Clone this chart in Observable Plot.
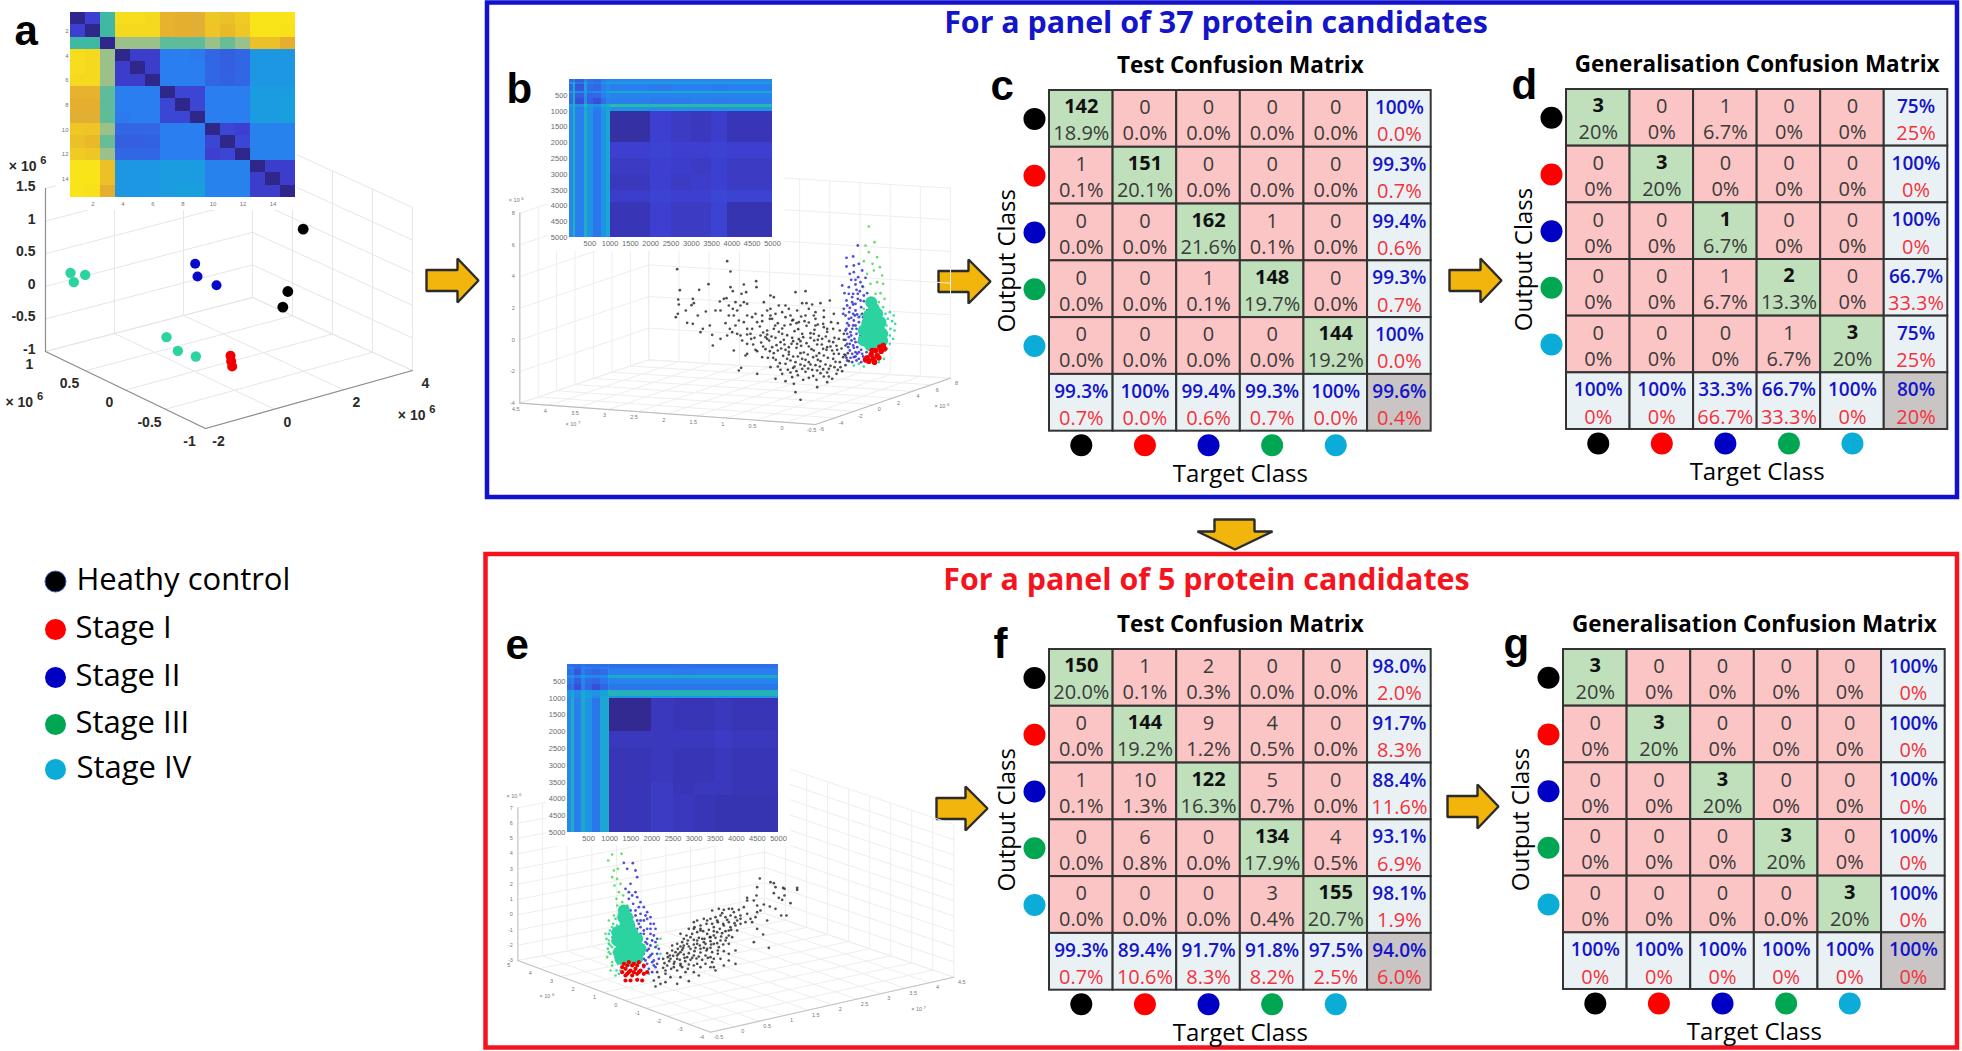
<!DOCTYPE html>
<html><head><meta charset="utf-8">
<script src="https://cdn.jsdelivr.net/npm/d3@7"></script>
<script src="https://cdn.jsdelivr.net/npm/@observablehq/plot@0.6"></script>
<style>html,body{margin:0;padding:0;background:#fff}#page{position:relative;width:1962px;height:1051px;overflow:hidden}#page svg{position:absolute;display:block;background:transparent;max-width:none}</style>
</head><body><div id="page"></div>
<script>
// ---------- classes ----------
const classNames = ["Heathy control","Stage I","Stage II","Stage III","Stage IV"];
const classColors = ["#000000","#ff0000","#0000c4","#00a651","#0bacd8"];

// ---------- confusion matrices ----------
const cCounts = [[142,0,0,0,0],[1,151,0,0,0],[0,0,162,1,0],[0,0,1,148,0],[0,0,0,0,144]];
const cPercents = [["18.9%","0.0%","0.0%","0.0%","0.0%"],["0.1%","20.1%","0.0%","0.0%","0.0%"],["0.0%","0.0%","21.6%","0.1%","0.0%"],["0.0%","0.0%","0.1%","19.7%","0.0%"],["0.0%","0.0%","0.0%","0.0%","19.2%"]];
const cRowGood = ["100%","99.3%","99.4%","99.3%","100%"];
const cRowBad = ["0.0%","0.7%","0.6%","0.7%","0.0%"];
const cColGood = ["99.3%","100%","99.4%","99.3%","100%","99.6%"];
const cColBad = ["0.7%","0.0%","0.6%","0.7%","0.0%","0.4%"];

const dCounts = [[3,0,1,0,0],[0,3,0,0,0],[0,0,1,0,0],[0,0,1,2,0],[0,0,0,1,3]];
const dPercents = [["20%","0%","6.7%","0%","0%"],["0%","20%","0%","0%","0%"],["0%","0%","6.7%","0%","0%"],["0%","0%","6.7%","13.3%","0%"],["0%","0%","0%","6.7%","20%"]];
const dRowGood = ["75%","100%","100%","66.7%","75%"];
const dRowBad = ["25%","0%","0%","33.3%","25%"];
const dColGood = ["100%","100%","33.3%","66.7%","100%","80%"];
const dColBad = ["0%","0%","66.7%","33.3%","0%","20%"];

const fCounts = [[150,1,2,0,0],[0,144,9,4,0],[1,10,122,5,0],[0,6,0,134,4],[0,0,0,3,155]];
const fPercents = [["20.0%","0.1%","0.3%","0.0%","0.0%"],["0.0%","19.2%","1.2%","0.5%","0.0%"],["0.1%","1.3%","16.3%","0.7%","0.0%"],["0.0%","0.8%","0.0%","17.9%","0.5%"],["0.0%","0.0%","0.0%","0.4%","20.7%"]];
const fRowGood = ["98.0%","91.7%","88.4%","93.1%","98.1%"];
const fRowBad = ["2.0%","8.3%","11.6%","6.9%","1.9%"];
const fColGood = ["99.3%","89.4%","91.7%","91.8%","97.5%","94.0%"];
const fColBad = ["0.7%","10.6%","8.3%","8.2%","2.5%","6.0%"];

const gCounts = [[3,0,0,0,0],[0,3,0,0,0],[0,0,3,0,0],[0,0,0,3,0],[0,0,0,0,3]];
const gPercents = [["20%","0%","0%","0%","0%"],["0%","20%","0%","0%","0%"],["0%","0%","20%","0%","0%"],["0%","0%","0%","20%","0%"],["0%","0%","0%","0.0%","20%"]];
const gRowGood = ["100%","100%","100%","100%","100%"];
const gRowBad = ["0%","0%","0%","0%","0%"];
const gColGood = ["100%","100%","100%","100%","100%","100%"];
const gColBad = ["0%","0%","0%","0%","0%","0%"];

// ---------- heatmap a: distance between 15 samples ----------
const aHeat = [
[3,14,55,98,98,97,86,85,84,92,90,93,100,100,100],
[14,3,55,97,97,97,86,85,84,91,88,92,100,100,99],
[55,55,3,70,70,70,60,60,60,70,62,70,90,90,85],
[98,97,70,3,13,13,30,30,29,24,22,24,37,37,37],
[98,97,70,13,3,13,30,30,30,24,22,24,37,37,37],
[97,97,70,13,13,3,30,30,30,24,23,24,37,37,37],
[86,86,60,30,30,30,3,16,16,30,30,30,38,38,38],
[85,85,60,30,30,30,16,3,16,30,30,30,38,38,39],
[84,84,60,29,30,30,16,16,3,30,30,30,38,38,39],
[92,91,70,24,24,24,30,30,30,3,16,14,31,31,31],
[90,88,62,22,22,23,30,30,30,16,3,16,31,31,31],
[93,92,70,24,24,24,30,30,30,14,16,3,31,31,31],
[100,100,90,37,37,37,38,38,38,31,31,31,3,13,13],
[100,100,90,37,37,37,38,38,38,31,31,31,13,3,13],
[100,99,85,37,37,37,38,39,39,31,31,31,13,13,3]];
const aHeatTicks = [2,4,6,8,10,12,14];

// ---------- heatmaps b and e: blocks between band edges ----------
const bEdges = [0,100,160,380,450,600,780,900,1000,2000,2500,3000,3500,3900,5000];
const bHeat = [
[25,30,22,33,27,25,30,33,33,33,33,33,33,33],
[36,46,28,42,30,28,36,38,38,38,38,38,38,38],
[24,44,20,40,26,24,30,34,30,29,30,30,29,30],
[36,46,34,40,32,34,36,40,42,42,42,42,42,42],
[26,44,22,36,24,24,30,34,32,31,32,32,31,32],
[24,44,18,36,22,18,26,32,30,29,29,30,29,30],
[38,50,36,52,38,36,44,46,52,52,52,52,52,52],
[33,46,30,42,36,30,38,40,36,35,36,35,36,36],
[33,48,30,46,36,28,36,42,7,14,12,11,13,10],
[33,48,30,46,36,28,36,42,14,15,14,14,15,14],
[33,48,30,46,36,28,36,42,12,14,13,12,14,12],
[33,48,30,46,36,28,36,42,11,14,12,13,14,12],
[33,48,30,46,36,28,36,42,13,15,14,14,16,15],
[33,48,30,46,36,28,36,42,10,14,12,12,15,9]];
const eEdges = [0,100,160,330,420,600,780,960,1000,2000,2500,3000,3500,3900,5000];
const eHeat = [
[27,25,25,28,26,27,26,30,26,26,26,26,26,26],
[30,30,24,32,30,28,30,36,28,28,28,28,28,28],
[26,28,20,30,26,24,26,34,30,30,29,30,30,30],
[34,36,30,38,34,32,34,44,44,44,44,44,44,44],
[28,30,22,32,26,24,28,36,32,32,32,32,32,32],
[24,28,18,30,24,18,24,34,28,28,28,28,28,28],
[36,40,34,42,38,36,40,48,48,48,48,48,48,48],
[36,44,34,42,40,34,44,48,36,36,36,36,36,36],
[33,46,30,44,36,28,42,46,4,11,10,10,11,10],
[33,46,30,44,36,28,42,46,11,11,11,11,12,11],
[33,46,30,44,36,28,42,46,10,11,10,10,11,10],
[33,46,30,44,36,28,42,46,10,11,10,10,11,10],
[33,46,30,44,36,28,42,46,10,12,10,11,11,10],
[33,46,30,44,36,28,42,46,10,12,11,10,9,9]];
const heatTicks = [500,1000,1500,2000,2500,3000,3500,4000,4500,5000];
const heatStops = [0,14,30,40,52,70,85,100];
const heatColors = ["#2d2078","#3d3fd0","#2a7ef0","#17a2dc","#2cb8a8","#9cc08a","#e6ae2e","#f9e41a"];

// ---------- scatter a, as read on the projected picture ----------
const aBlack = [[908,686],[862,873],[847,920]];
const aRed = [[690,1066],[692,1082],[695,1098]];
const aBlue = [[584,790],[591,828],[648,854]];
const aTeal = [[210,817],[254,823],[220,845],[498,1010],[532,1051],[586,1068]];

// ---------- scatter b, as read on the projected picture ----------
const bBlack = [[590,806],[740,782],[750,813],[598,869],[684,851],[656,868],[637,895],[593,897],[595,912],[640,908],[633,914],[616,930],[586,950],[592,940],[652,945],[676,933],[620,967],[637,970],[688,975],[660,995],[667,985],[695,1003],[720,1015],[697,1035],[750,860],[757,872],[790,852],[783,880],[797,875],[827,842],[828,860],[870,885],[880,890],[945,875],[975,872],[730,895],[718,903],[738,893],[790,905],[800,910],[757,925],[770,930],[705,930],[760,945],[735,968],[748,985],[765,975],[790,965],[800,985],[810,1000],[780,1005],[825,940],[850,905],[860,930],[870,925],[895,915],[915,915],[925,925],[965,908],[978,908],[995,912],[1020,908],[1048,900],[1005,935],[1030,930],[975,945],[950,930],
[845,962],[868,955],[892,968],[915,950],[938,958],[962,948],[985,966],[1005,955],[1028,970],[815,985],[838,978],[860,990],[884,975],[905,984],[930,972],[953,986],[978,976],[1002,988],[1030,980],[1052,965],[800,1002],[822,1012],[848,996],[873,1008],[895,994],[920,1004],[942,992],[968,1010],[990,998],[1015,1006],[1040,994],[1062,1012],[1078,990],[818,1032],[842,1026],[866,1020],[888,1034],[910,1018],[933,1030],[955,1016],[978,1028],[1001,1020],[1024,1032],[1046,1022],[1068,1036],[1090,1018],[830,1052],[855,1046],[880,1058],[902,1044],[925,1054],[948,1042],[970,1056],[993,1046],[1016,1058],[1038,1048],[1060,1060],[1083,1044],[1102,1058],[862,1072],[886,1078],[908,1066],[930,1080],[952,1068],[975,1078],[998,1070],[1020,1082],[1042,1072],[1065,1084],[1088,1070],[1105,1082],[892,1098],[915,1090],[938,1102],[960,1092],[983,1104],[1005,1094],[1028,1106],[1050,1096],[1072,1108],[1095,1094],[905,1120],[930,1116],[952,1124],[975,1114],[998,1126],[1020,1118],[1045,1128],[1068,1120],[885,1135],[915,1142],[940,1150],[968,1138],[1010,1160],[1040,1145],[945,1175],[960,1198],[830,1120],[775,1110],[782,1102],[845,1070],[870,1100],[800,1060],[795,1065],[760,1050],[905,1000],[935,1012],[960,1022],[985,1038],[1010,1032],[950,1030],[925,1040],[900,1025],[875,1040],[965,1000],[1000,1050],[1030,1065],[1055,1050],[1075,1060],[985,1085],[945,1085],[925,1062],[1000,1000],[1025,1015],[880,985],[855,1010],[1045,1105],[1080,1100],[1010,1110],[965,1105],[935,960],[875,955],[1040,1040],
[912,975],[948,968],[972,962],[1012,972],[1040,985],[860,1002],[885,1012],[912,1032],[938,1022],[962,1036],[990,1012],[1012,1018],[1036,1008],[1058,1025],[1075,1015],[1095,1035],[848,1038],[868,1052],[892,1050],[915,1048],[938,1068],[960,1058],[982,1062],[1008,1066],[1028,1045],[1050,1038],[1070,1048],[1092,1062],[878,1072],[898,1088],[920,1075],[942,1098],[965,1075],[990,1092],[1012,1078],[1035,1092],[1058,1075],[1078,1085],[1098,1072],[922,1108],[948,1112],[972,1096],[995,1108],[1018,1098],[1040,1116],[1062,1100],[1085,1112],[900,1108],[935,1130],[985,1132],[1008,1138],[1030,1128],[1055,1135],[860,1015],[840,1005],[825,1048],[812,1015],[800,1030],[785,1020],[770,1000],[755,995],[740,1005],[775,960],[745,945],[720,930],[830,965],[815,950],[800,945],[780,915],[765,905],[745,915],[905,935],[885,940],[930,945],[955,965],[1005,975],[1058,985],[1072,968],[1090,1000],[1030,950],[1060,940],[1000,945],[985,925],[845,945],[870,945]];
const bBlue = [[1132,735],[1098,772],[1118,768],[1135,790],[1098,798],[1120,815],[1145,810],[1112,838],[1133,830],[1155,832],[1085,855],[1105,860],[1125,852],[1146,858],[1092,878],[1118,880],[1138,872],[1160,878],[1098,900],[1115,905],[1132,895],[1150,902],[1090,925],[1108,922],[1125,930],[1142,920],[1160,930],[1095,945],[1112,952],[1130,942],[1148,950],[1100,968],[1118,975],[1135,965],[1152,972],[1095,990],[1110,995],[1128,985],[1145,992],[1105,1010],[1122,1015],[1140,1005],[1155,1012],[1100,1030],[1118,1035],[1135,1025],[1150,1032],[1108,1050],[1125,1055],[1142,1048],[1158,1055],[1120,1070],[1135,1075],[1148,1068],[1115,1085],[1120,960],[1128,1000],[1115,985],[1130,1040],[1123,945],[1105,975],[1113,1020],[1138,1012],[1125,1068],[1103,1040],[1140,985],[1106,935],[1118,912],[1128,868],
[1100,1000],[1112,1005],[1125,1025],[1108,1030],[1120,1042],[1135,1055],[1115,1060],[1128,1080],[1142,1085],[1098,985],[1105,955],[1118,940],[1135,950],[1145,940],[1125,910],[1140,900],[1100,915],[1115,890],[1132,880],[1150,885],[1105,880],[1125,838],[1140,845],[1120,795],[1108,820],[1155,1035],[1145,1060],[1130,1060],[1110,1072],[1095,1018],[1125,975],[1138,995],[1150,960],[1088,940],[1095,1065],[1100,1080]];
const bGreen = [[1165,678],[1182,725],[1155,735],[1190,770],[1165,755],[1176,790],[1150,782],[1198,800],[1205,825],[1180,810],[1160,820],[1208,850],[1190,845],[1170,850],[1148,860],[1200,878],[1212,895],[1185,880],[1165,895],[1195,905],[1208,920],[1150,925],[1140,945],[1175,905]];
const bTealCore = [[1180,925],[1178,950],[1175,975],[1185,960],[1170,1000],[1185,1000],[1195,985],[1165,1020],[1180,1025],[1195,1015],[1160,1000],[1205,1000],[1172,905],[1165,945],[1190,940],[1160,970],[1200,965],[1150,990],[1150,1020],[1170,1035],[1205,1020]];
const bTealEdge = [[1215,940],[1228,935],[1240,945],[1222,955],[1235,962],[1244,970],[1218,975],[1230,985],[1242,990],[1215,1000],[1228,1005],[1238,1015],[1218,1020],[1228,1030],[1208,1040],[1220,1045],[1135,1090],[1150,1098],[1120,1095],[1195,1085],[1210,1075],[1152,950],[1150,985],[1145,1015]];
const bRed = [[1160,1072],[1172,1062],[1185,1050],[1198,1040],[1208,1035],[1165,1082],[1178,1075],[1190,1065],[1202,1052],[1212,1045],[1155,1078],[1182,1085],[1195,1072],[1175,1050]];

// ---------- scatter e, as read on the projected picture ----------
const eBlack = [[838,1014],[870,1025],[880,1028],[830,1040],[885,1040],[908,1042],[912,1045],[950,1042],[950,1048],[880,1058],[828,1065],[912,1065],[905,1078],[895,1072],[930,1088],[800,1072],[800,1080],[820,1080],[850,1092],[868,1098],[885,1105],[918,1125],[902,1125],[830,1095],[840,1110],[860,1140],[825,1130],[815,1145],[848,1182],[865,1222],[820,1205],[830,1165],
[790,1100],[775,1108],[760,1115],[745,1105],[730,1108],[715,1105],[695,1110],[780,1125],[765,1130],[750,1125],[735,1130],[720,1125],[705,1130],[690,1135],[670,1135],[650,1140],[795,1145],[780,1150],[762,1148],[745,1145],[728,1150],[712,1145],[695,1150],[678,1150],[660,1155],[642,1160],[625,1165],[770,1170],[752,1168],[735,1172],[718,1165],[700,1172],[685,1168],[668,1172],[650,1175],[635,1180],[618,1185],[600,1180],[755,1190],[738,1192],[722,1188],[705,1192],[688,1190],[672,1195],[655,1192],[640,1198],[622,1200],[605,1205],[590,1210],[575,1215],[745,1210],[728,1212],[710,1208],[692,1212],[675,1210],[658,1215],[640,1212],[625,1218],[608,1222],[592,1225],[575,1230],[560,1238],[730,1232],[712,1230],[695,1235],[678,1230],[660,1236],[642,1232],[625,1238],[610,1242],[594,1240],[578,1246],[562,1250],[548,1255],[700,1255],[682,1252],[665,1258],[648,1254],[630,1258],[614,1262],[598,1258],[582,1264],[566,1262],[552,1268],[765,1230],[765,1270],[745,1240],[730,1275],[705,1290],[690,1280],[660,1280],[640,1275],[622,1285],[605,1280],[590,1290],[572,1285],[555,1290],[625,1322],[590,1330],[555,1325],[540,1330],[525,1338],[655,1305],[600,1310],[570,1310],[535,1310],[555,1300],[520,1320],[530,1295],[650,1210],[665,1195],[680,1225],[700,1210],[720,1200],[630,1225],[610,1215],[590,1245],[570,1255],[640,1245],[660,1225],[690,1190],[710,1175],[730,1155],[700,1160],[745,1170],[600,1235],[620,1250],[580,1270],[600,1270],
[640,1165],[660,1170],[680,1180],[700,1185],[725,1178],[745,1185],[765,1155],[780,1135],[755,1105],[610,1195],[630,1190],[650,1200],[670,1205],[690,1202],[715,1220],[735,1200],[600,1218],[620,1210],[585,1235],[605,1228],[645,1222],[670,1222],[690,1222],[712,1240],[568,1245],[590,1255],[612,1252],[635,1252],[655,1248],[675,1245],[690,1250],[720,1255],[745,1260],[560,1275],[580,1280],[600,1275],[625,1272],[650,1270],[675,1270],[695,1265],[548,1282],[615,1295],[640,1295],[700,1280],[710,1140],[740,1138],[770,1140],[725,1118],[750,1160],[680,1140],[660,1165],[640,1145],[800,1120],[810,1135],[830,1115]];
const eBlue = [[430,967],[457,968],[440,985],[465,990],[470,1010],[450,1030],[435,1045],[465,1055],[445,1075],[470,1070],[458,1090],[480,1085],[440,1100],[490,1100],[465,1110],[480,1120],[500,1115],[455,1130],[470,1140],[490,1140],[510,1150],[460,1155],[480,1160],[500,1165],[520,1150],[470,1180],[490,1180],[510,1180],[525,1165],[480,1200],[495,1205],[515,1200],[530,1195],[485,1220],[505,1225],[525,1220],[490,1240],[510,1245],[530,1240],[495,1260],[515,1265],[535,1255],[505,1285],[525,1280],[500,1230],[475,1215],[500,1195],[480,1140],[470,1165],[515,1240],[520,1260],
[500,1135],[490,1170],[475,1150],[510,1165],[520,1185],[500,1210],[485,1235],[525,1205],[535,1225],[505,1250],[490,1255],[520,1275],[500,1270],[510,1215],[480,1180],[465,1125],[450,1110],[475,1100],[455,1065],[445,1055],[510,1130],[495,1125],[490,1280],[515,1295],[530,1270]];
const eGreen = [[395,942],[423,940],[383,960],[400,990],[412,985],[395,1010],[410,1015],[420,1030],[402,1035],[415,1055],[428,1065],[408,1075],[425,1085],[440,1095],[410,1095],[400,1125],[415,1120],[385,1140],[395,1160],[375,1180],[385,1200],[395,1220],[385,1235],[380,1250],[395,1265],[390,1290],[405,1305],[430,1110],[445,1125],[540,1195],[530,1215]];
const eTealCore = [[428,1130],[435,1150],[425,1170],[445,1170],[420,1190],[440,1195],[460,1190],[425,1215],[445,1220],[465,1215],[475,1235],[425,1240],[450,1240],[430,1255],[460,1255],[410,1175],[410,1200],[415,1235],[445,1150],[455,1175],[470,1195],[480,1225],[470,1255],[445,1260],[420,1255],[430,1110],[440,1130]];
const eTealEdge = [[400,1170],[395,1190],[405,1205],[390,1215],[400,1235],[410,1225],[405,1250],[412,1270],[420,1290],[415,1300],[400,1180],[410,1155],[480,1200],[490,1215],[385,1180],[378,1195],[385,1210],[390,1240],[382,1225],[395,1275],[408,1290],[388,1170],[398,1150],[405,1135],[540,1240],[490,1300],[505,1300]];
const eRed = [[430,1270],[445,1265],[460,1270],[475,1265],[490,1275],[435,1285],[450,1290],[465,1285],[480,1290],[440,1300],[455,1305],[470,1300],[435,1320],[450,1320],[470,1318],[485,1320],[425,1280],[440,1275],[455,1275],[470,1275],[425,1295],[445,1295],[460,1295],[475,1295],[490,1300],[435,1305],[500,1295]];

// ---------- tick values of the 3-D boxes ----------
const aX = [-2,0,2,4], aY = [1,0.5,0,-0.5,-1], aZ = [1.5,1,0.5,0,-0.5,-1];
const bX = [4.5,4,3.5,3,2.5,2,1.5,1,0.5,0,-0.5], bY = [-6,-4,-2,0,2,4,6,8], bZ = [8,6,4,2,0,-2,-4];
const eX = [5,4,3,2,1,0,-1,-2,-3,-4], eY = [-0.5,0,0.5,1,1.5,2,2.5,3,3.5,4,4.5], eZ = [7,6,5,4,3,2,1,0,-1,-2,-3];

// ---------- layout ----------
const fontUI = "'Open Sans','Noto Sans',sans-serif";
const fontMat = "'Liberation Sans',Arial,sans-serif";
const page = document.getElementById("page");
function place(svg,left,top){svg.style.left=left+"px";svg.style.top=top+"px";page.appendChild(svg);}
const pts = a => a.map(([x,y])=>({x,y}));
const lerp=(p,q,t)=>[p[0]+(q[0]-p[0])*t,p[1]+(q[1]-p[1])*t];
const frac=(ticks,i)=>i/(ticks.length-1);

// ---------- page furniture ----------
const frames=[{x1:487,y1:2.5,x2:1957,y2:497,c:"#1212cc"},{x1:485.5,y1:554,x2:1957,y2:1047.5,c:"#f5141e"}];
const arrowsRight=[[426,478,457,280],[938,990,968,281],[1449,1501,1480,280],[936,987,965,808],[1447,1498,1477,806]];
const arrowShape=([x0,x1,xb,y])=>[[x0,y-10.5],[xb,y-10.5],[xb,y-22],[x1,y],[xb,y+22],[xb,y+10.5],[x0,y+10.5],[x0,y-10.5]];
const arrowDown=[[1214,519],[1254,519],[1254,531],[1272,531],[1234.5,549],[1197,531],[1214,531],[1214,519]];
const letters=[["a",14,44],["b",506,102],["c",990,99],["d",1511,98],["e",505,658],["f",993,657],["g",1503,657]];
const legendY=[581,629,677,724,769];
const legendTextX=[76,75,75,75,76];
const furniture=Plot.plot({width:1962,height:1051,margin:0,
  x:{domain:[0,1962],range:[0,1962],axis:null},y:{domain:[0,1051],range:[0,1051],axis:null},color:{type:"identity"},
  style:{background:"transparent"},
  marks:[
    Plot.rect(frames,{x1:"x1",x2:"x2",y1:"y1",y2:"y2",fill:"none",stroke:"c",strokeWidth:4.5}),
    ...arrowsRight.map(a=>Plot.line(arrowShape(a),{x:d=>d[0],y:d=>d[1],fill:"#f2b50c",stroke:"#2b2b2b",strokeWidth:2.4,strokeLinejoin:"miter"})),
    Plot.line(arrowDown,{x:d=>d[0],y:d=>d[1],fill:"#f2b50c",stroke:"#2b2b2b",strokeWidth:2.4,strokeLinejoin:"miter"}),
    Plot.text(["For a panel of 37 protein candidates"],{x:1215.5,y:23,text:d=>d,fontFamily:fontUI,fontWeight:700,fontSize:30.4,fill:"#1414c8"}),
    Plot.text(["For a panel of 5 protein candidates"],{x:1206,y:580,text:d=>d,fontFamily:fontUI,fontWeight:700,fontSize:30.4,fill:"#f5141e"}),
    Plot.text(letters,{x:d=>d[1],y:d=>d[2],text:d=>d[0],textAnchor:"start",lineAnchor:"bottom",fontFamily:fontMat,fontWeight:700,fontSize:42,fill:"#000"}),
    Plot.dot(classNames,{x:55,y:(d,i)=>legendY[i],r:10.5,fill:(d,i)=>classColors[i],stroke:(d,i)=>i==0?"#3a5fc0":"none",strokeWidth:1}),
    Plot.text(classNames,{x:(d,i)=>legendTextX[i],y:(d,i)=>legendY[i]-1,text:d=>d,textAnchor:"start",fontFamily:fontUI,fontSize:31,fill:"#000"})
  ]});
place(furniture,0,0);

// ---------- 3-D boxes ----------
function box(cfg){
  const {A,B,C,D,h,Z,w,ht,dom,line,grid,labels,extra}=cfg;
  const up=(p,t)=>[p[0],p[1]-h*t];
  const segs=[];
  const seg=(p,q)=>segs.push([p,q]);
  cfg.U.forEach((_,i)=>{const t=frac(cfg.U,i);seg(lerp(A,B,t),lerp(D,C,t));seg(lerp(D,C,t),up(lerp(D,C,t),1));});
  cfg.V.forEach((_,i)=>{const t=frac(cfg.V,i);seg(lerp(A,D,t),lerp(B,C,t));seg(lerp(A,D,t),up(lerp(A,D,t),1));});
  Z.forEach((_,i)=>{const t=1-frac(Z,i);seg(up(A,t),up(D,t));seg(up(D,t),up(C,t));});
  const gridData=segs.flatMap((s,i)=>[{x:s[0][0],y:s[0][1],i},{x:s[1][0],y:s[1][1],i}]);
  const zLab=Z.map((v,i)=>{const p=up(A,1-frac(Z,i));return{x:p[0],y:p[1],v:String(v)};});
  const uLab=cfg.U.map((v,i)=>{const p=lerp(A,B,frac(cfg.U,i));return{x:p[0],y:p[1],v:String(v)};});
  const vLab=cfg.V.map((v,i)=>{const p=lerp(B,C,frac(cfg.V,i));return{x:p[0],y:p[1],v:String(v)};});
  const axes=[[up(A,1),A],[A,B],[B,C]];
  const t=labels;
  const txt={fontFamily:fontMat,fontSize:t.size,fontWeight:t.weight,fill:t.fill,text:"v",x:"x",y:"y"};
  return Plot.plot({width:w,height:ht,margin:0,
    x:{domain:[0,dom[0]],range:[0,w],axis:null},y:{domain:[0,dom[1]],range:[0,ht],axis:null},color:{type:"identity"},
    style:{background:"transparent"},
    marks:[
      Plot.line(gridData,{x:"x",y:"y",z:"i",stroke:grid,strokeWidth:1}),
      ...axes.map(s=>Plot.line(s,{x:d=>d[0],y:d=>d[1],stroke:line,strokeWidth:cfg.axisWidth})),
      Plot.text(zLab,{...txt,textAnchor:"end",dx:t.z[0],dy:t.z[1]}),
      Plot.text(uLab,{...txt,dx:t.u[0],dy:t.u[1]}),
      Plot.text(vLab,{...txt,dx:t.v[0],dy:t.v[1]}),
      Plot.text(cfg.exps,{x:d=>d[0],y:d=>d[1],text:d=>"× 10",textAnchor:"start",fontFamily:fontMat,fontSize:t.size,fontWeight:t.weight,fill:t.fill}),
      Plot.text(cfg.exps,{x:d=>d[0],y:d=>d[1],text:d=>d[2],textAnchor:"start",dx:t.size*2.25,dy:-t.size*.42,fontFamily:fontMat,fontSize:t.size*.8,fontWeight:t.weight,fill:t.fill}),
      ...extra
    ]});
}
const dots=(a,r,fill,opacity=1)=>Plot.dot(pts(a),{x:"x",y:"y",r,fill,fillOpacity:opacity});

place(box({A:[135,1053],B:[615,1284],C:[1236,1110],D:[756,891],h:489,U:aY,V:aX,Z:aZ,w:480,ht:500,dom:[1440,1500],
  line:"#8e8e8e",grid:"#e6e6e6",axisWidth:1.2,
  labels:{size:14,weight:700,fill:"#2a2a2a",z:[-10,-2],u:[-16,13],v:[13,13]},
  exps:[[25,497,"6"],[15,1206,"6"],[1192,1245,"6"]],
  extra:[dots(aBlack,5.4,"#000"),dots(aRed,5,"#f00000"),dots(aBlue,5,"#0808c8"),dots(aTeal,5.2,"#2bd3a0")]}),0,0);

place(box({A:[118,1208],B:[1005,1272],C:[1410,1133],D:[505,1078],h:570,U:bX,V:bY,Z:bZ,w:500,ht:500,dom:[1500,1500],
  line:"#bcbcbc",grid:"#eeeeee",axisWidth:1.1,
  labels:{size:5.5,weight:400,fill:"#777",z:[-5,0],u:[-4,6],v:[6,5]},
  exps:[[85,600,"6"],[255,1272,"7"],[1362,1218,"6"]],
  extra:[dots(bBlack,1.35,"#222",.8),dots(bGreen,1.3,"#62dd6a"),dots(bTealEdge,1.3,"#37d8a8"),dots(bBlue,1.4,"#2424cc",.8),dots(bTealCore,6,"#2bd3a0"),dots(bRed,2.8,"#f00000")]}),480,0);

place(box({A:[112,1260],B:[690,1475],C:[1420,1310],D:[852,1118],h:458,U:eX,V:eY,Z:eZ,w:500,ht:511,dom:[1500,1533],
  line:"#c4c4c4",grid:"#eeeeee",axisWidth:1.1,
  labels:{size:5.5,weight:400,fill:"#777",z:[-5,0],u:[-9,5],v:[8,5]},
  exps:[[78,768,"6"],[177,1368,"6"],[1292,1407,"7"]],
  extra:[dots(eBlack,1.35,"#222",.8),dots(eGreen,1.3,"#62dd6a"),dots(eBlue,1.4,"#2424cc",.8),dots(eTealEdge,1.3,"#37d8a8"),dots(eTealCore,6,"#2bd3a0"),dots(eRed,2.1,"#f00000")]}),480,540);

// ---------- heatmaps ----------
const heatColor={type:"linear",domain:heatStops,range:heatColors,clamp:true};
const tickStyle={tickSize:0,fontSize:7.5,fill:"#6a6a6a",fontFamily:fontMat};
(function(){
  const cells=aHeat.flatMap((r,i)=>r.map((v,j)=>({row:i+1,col:j+1,v})));
  const order=aHeat.map((_,i)=>i+1);
  const ml=14,mb=13,mt=1,mr=2;
  const svg=Plot.plot({width:225+ml+mr,height:185+mt+mb,marginLeft:ml,marginRight:mr,marginTop:mt,marginBottom:mb,
    x:{type:"band",domain:order,padding:0,round:false,axis:null},y:{type:"band",domain:order,padding:0,round:false,axis:null},color:heatColor,
    style:{background:"transparent"},
    marks:[Plot.cell(cells,{x:"col",y:"row",fill:"v",shapeRendering:"crispEdges"}),
      Plot.text(aHeatTicks,{x:d=>d,frameAnchor:"bottom",dy:8,text:d=>String(d),fontSize:6,fill:"#777",fontFamily:fontMat}),
      Plot.text(aHeatTicks,{y:d=>d,frameAnchor:"left",dx:-2,textAnchor:"end",text:d=>String(d),fontSize:6,fill:"#777",fontFamily:fontMat})]});
  svg.style.background="#fff";
  place(svg,70-ml,12-mt);
})();
function blockHeat(edges,matrix,left,top,w,h){
  const rects=matrix.flatMap((r,i)=>r.map((v,j)=>({x1:edges[j],x2:edges[j+1],y1:edges[i],y2:edges[i+1],v})));
  const ml=21,mr=12,mt=2,mb=14;
  const svg=Plot.plot({width:w+ml+mr,height:h+mt+mb,marginLeft:ml,marginRight:mr,marginTop:mt,marginBottom:mb,
    x:{domain:[0,5000],axis:null},y:{domain:[0,5000],reverse:true,axis:null},color:heatColor,
    style:{background:"transparent"},
    marks:[Plot.rect(rects,{x1:"x1",x2:"x2",y1:"y1",y2:"y2",fill:"v",shapeRendering:"crispEdges"}),
      Plot.axisX(heatTicks,{anchor:"bottom",...tickStyle,tickPadding:3,tickFormat:d=>String(d),label:null}),
      Plot.axisY(heatTicks,{anchor:"left",...tickStyle,tickPadding:2,tickFormat:d=>String(d),label:null})]});
  svg.style.background="#fff";
  place(svg,left-ml,top-mt);
}
blockHeat(bEdges,bHeat,569,79,203,158);
blockHeat(eEdges,eHeat,567,664,211,168);

// ---------- confusion matrices ----------
const matrixLayout=[
 {counts:cCounts,pct:cPercents,rg:cRowGood,rb:cRowBad,cg:cColGood,cb:cColBad,title:"Test Confusion Matrix",left:1049,top:90,w:381.7,h:340.7},
 {counts:dCounts,pct:dPercents,rg:dRowGood,rb:dRowBad,cg:dColGood,cb:dColBad,title:"Generalisation Confusion Matrix",left:1565.7,top:89.3,w:381.3,h:340},
 {counts:fCounts,pct:fPercents,rg:fRowGood,rb:fRowBad,cg:fColGood,cb:fColBad,title:"Test Confusion Matrix",left:1049,top:649.3,w:381.7,h:340.7},
 {counts:gCounts,pct:gPercents,rg:gRowGood,rb:gRowBad,cg:gColGood,cb:gColBad,title:"Generalisation Confusion Matrix",left:1563,top:649.3,w:381.7,h:340}
];
const cols=[...classNames,"All"];
matrixLayout.forEach(m=>{
  const body=[],edge=[];
  m.counts.forEach((r,i)=>r.forEach((n,j)=>body.push({x:cols[j],y:cols[i],top:String(n),bot:m.pct[i][j],diag:i==j,fill:i==j?"#bfe0bb":"#fcc5c5"})));
  m.rg.forEach((g,i)=>edge.push({x:"All",y:cols[i],top:g,bot:m.rb[i],fill:"#e9f1f4"}));
  m.cg.forEach((g,j)=>edge.push({x:cols[j],y:"All",top:g,bot:m.cb[j],fill:j==5?"#c9c5c4":"#e9f1f4"}));
  const ml=70,mr=6,mt=40,mb=58;
  const base={x:"x",y:"y",fontFamily:fontUI,fontSize:20};
  const svg=Plot.plot({width:m.w+ml+mr,height:m.h+mt+mb,marginLeft:ml,marginRight:mr,marginTop:mt,marginBottom:mb,
    x:{type:"band",domain:cols,padding:0,round:false,axis:null},y:{type:"band",domain:cols,padding:0,round:false,axis:null},color:{type:"identity"},
    style:{background:"transparent"},
    marks:[
      Plot.cell([...body,...edge],{x:"x",y:"y",fill:"fill",stroke:"#333",strokeWidth:2}),
      Plot.text(body.filter(d=>!d.diag),{...base,text:"top",fill:"#3a3a3a",dy:-11}),
      Plot.text(body.filter(d=>d.diag),{...base,text:"top",fill:"#111",dy:-12,fontWeight:700}),
      Plot.text(body,{...base,text:"bot",fill:"#3a3a3a",dy:15}),
      Plot.text(edge,{...base,text:"top",fill:"#1414c8",dy:-11,fontWeight:600,fontSize:19}),
      Plot.text(edge,{...base,text:"bot",fill:"#f5323c",dy:16}),
      Plot.dot(classNames,{y:d=>d,frameAnchor:"left",dx:-15,r:11,fill:(d,i)=>classColors[i]}),
      Plot.dot(classNames,{x:d=>d,frameAnchor:"bottom",dy:14,r:11,fill:(d,i)=>classColors[i]}),
      Plot.text([m.title],{text:d=>d,frameAnchor:"top",lineAnchor:"middle",dy:-25,fontFamily:fontUI,fontWeight:700,fontSize:22.5,fill:"#000"}),
      Plot.text(["Target Class"],{text:d=>d,frameAnchor:"bottom",lineAnchor:"middle",dy:43,fontFamily:fontUI,fontSize:24,fill:"#000"}),
      Plot.text(["Output Class"],{text:d=>d,frameAnchor:"left",textAnchor:"middle",lineAnchor:"middle",rotate:-90,dx:-42,fontFamily:fontUI,fontSize:24,fill:"#000"})
    ]});
  place(svg,m.left-ml,m.top-mt);
});
</script></body></html>
